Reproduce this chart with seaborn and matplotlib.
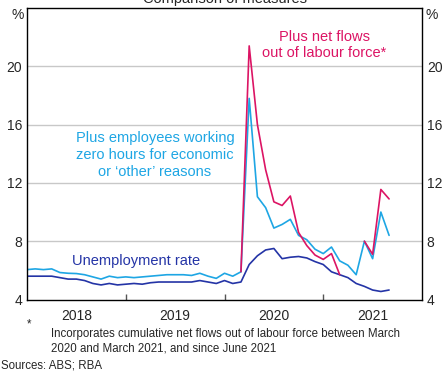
import numpy as np
import pandas as pd
import seaborn as sns
from matplotlib import pyplot as plt

# monthly, Jan 2018 - Sep 2021
months = pd.date_range('2018-01-01', '2021-09-01', freq='MS')

unemployment = [5.6, 5.6, 5.6, 5.6, 5.5, 5.4, 5.4, 5.3, 5.1, 5.0, 5.1, 5.0,
                5.05, 5.1, 5.05, 5.15, 5.2, 5.2, 5.2, 5.2, 5.2, 5.3, 5.2, 5.1,
                5.3, 5.1, 5.2, 6.4, 7.0, 7.4, 7.5, 6.8, 6.9, 6.95, 6.85, 6.6,
                6.4, 5.9, 5.7, 5.5, 5.1, 4.9, 4.65, 4.55, 4.65]
zero_hours = [6.05, 6.1, 6.05, 6.1, 5.85, 5.8, 5.78, 5.7, 5.55, 5.4, 5.6, 5.5,
              5.55, 5.5, 5.55, 5.6, 5.65, 5.7, 5.7, 5.7, 5.65, 5.8, 5.6, 5.45,
              5.8, 5.6, 5.9, 17.8, 11.05, 10.3, 8.9, 9.15, 9.5, 8.4, 8.1, 7.45,
              7.15, 7.6, 6.65, 6.35, 5.7, 8.0, 6.8, 10.0, 8.4]
net_flows = [np.nan] * 26 + [5.9, 21.4, 16.0, 12.9, 10.7, 10.45, 11.1, 8.6, 7.7, 7.05,
                             6.75, 7.15, 5.7, np.nan, np.nan, 8.0, 7.1, 11.55, 10.9]

c_unemp = '#2434a6'
c_zero = '#1ea6e4'
c_flows = '#dc1464'

df = pd.DataFrame({'date': months, 'unemp': unemployment,
                   'zero': zero_hours, 'flows': net_flows})
df['t'] = df.date.dt.year + (df.date.dt.month - 1) / 12
# break the net flows line where it is missing
df['seg'] = df.flows.isna().cumsum()

sns.set_theme(style='white')
plt.rcParams['font.family'] = ['Liberation Sans', 'DejaVu Sans']

fig = plt.figure(figsize=(4.44, 3.73), dpi=100)
ax = fig.add_axes([27 / 444, 1 - 299.5 / 373, 395 / 444, 291.5 / 373])

for y in [8, 12, 16, 20]:
    ax.axhline(y, color='#c8c8c8', lw=1, zorder=0)

sns.lineplot(data=df, x='t', y='unemp', color=c_unemp, lw=1.2, ax=ax)
sns.lineplot(data=df, x='t', y='zero', color=c_zero, lw=1.2, ax=ax)
sns.lineplot(data=df.dropna(subset=['flows']), x='t', y='flows', units='seg',
             estimator=None, color=c_flows, lw=1.2, ax=ax)

ax.set_xlim(2018, 2022)
ax.set_ylim(4, 24)
ax.set_xlabel('')
ax.set_ylabel('')

ax.set_xticks([2019, 2020, 2021])
ax.set_xticklabels([])
ax.set_xticks([2018.5, 2019.5, 2020.5, 2021.5], minor=True)
ax.set_xticklabels(['2018', '2019', '2020', '2021'], minor=True, fontsize=10)
ax.tick_params(axis='x', which='major', direction='in', length=4,
               color='#555555', width=1, bottom=True)
ax.tick_params(axis='x', which='minor', length=0, pad=6.5)

ax.set_yticks([4, 8, 12, 16, 20])
ax.tick_params(axis='y', length=0, labelsize=10, pad=3.5,
               left=True, right=True, labelleft=True, labelright=True)

for s in ax.spines.values():
    s.set_color('black')
    s.set_linewidth(1)

fig.text(18 / 444, 1 - 15 / 373, '%', ha='center', va='center', fontsize=10)
fig.text(432 / 444, 1 - 15 / 373, '%', ha='center', va='center', fontsize=10)
# title is clipped by the top edge, as in the original export
fig.text(224.5 / 444, 1 - 3 / 373, 'Comparison of measures', ha='center',
         va='baseline', fontsize=10.5)

ax.annotate('Plus net flows\nout of labour force*', xy=(324 / 444, 1 - 45 / 373),
            xycoords='figure fraction', ha='center', va='center',
            color=c_flows, fontsize=10.5, linespacing=1.25)
ax.annotate('Plus employees working\nzero hours for economic\nor \u2018other\u2019 reasons',
            xy=(155 / 444, 1 - 155 / 373), xycoords='figure fraction',
            ha='center', va='center', color=c_zero, fontsize=10.5, linespacing=1.25)
ax.annotate('Unemployment rate', xy=(136 / 444, 1 - 261 / 373),
            xycoords='figure fraction', ha='center', va='center',
            color=c_unemp, fontsize=10.5)

fig.text(27 / 444, 1 - 324 / 373, '*', ha='left', va='center', fontsize=8.3)
fig.text(51 / 444, 1 - 341 / 373,
         'Incorporates cumulative net flows out of labour force between March\n'
         '2020 and March 2021, and since June 2021',
         ha='left', va='center', fontsize=8.3, linespacing=1.3)
fig.text(1 / 444, 1 - 366 / 373, 'Sources: ABS; RBA', ha='left', va='center',
         fontsize=8.3)

plt.savefig('out.png', dpi=100)
